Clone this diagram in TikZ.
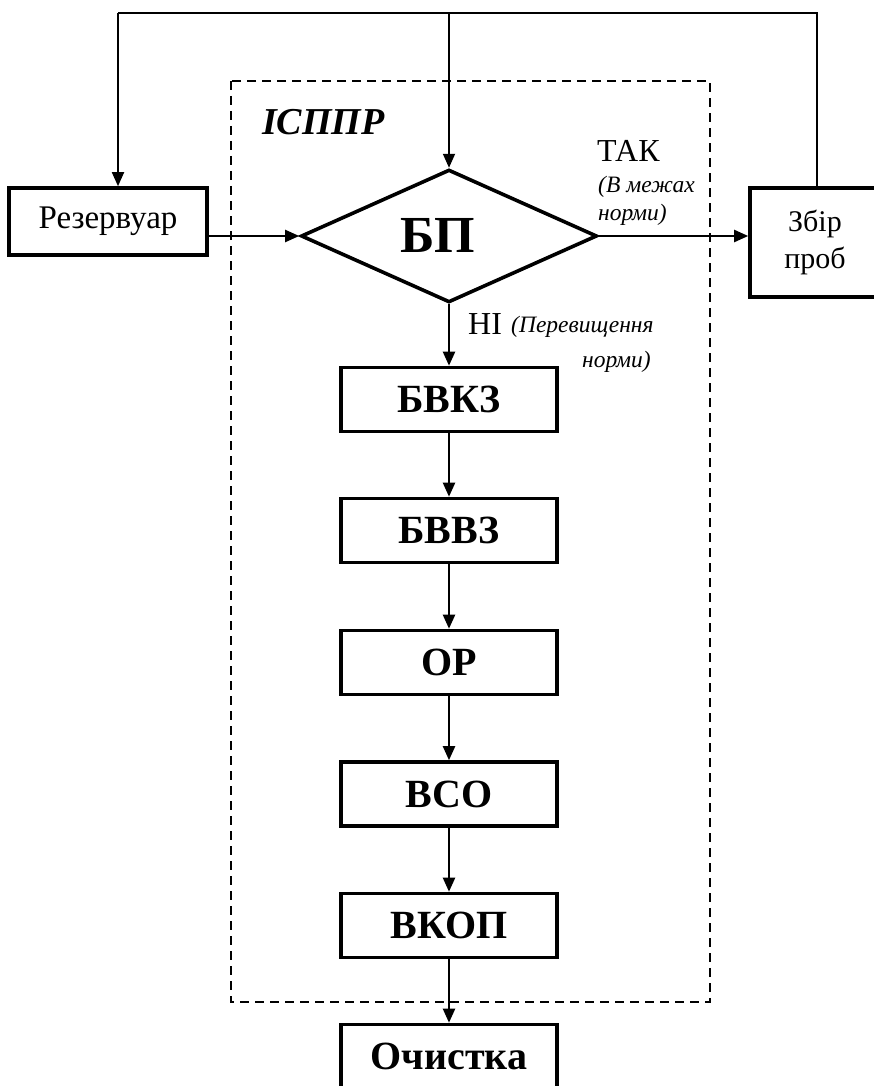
\documentclass[tikz,border=0pt]{standalone}
\usepackage{fontspec}
\setmainfont{Liberation Serif}
\usetikzlibrary{shapes.geometric,arrows.meta,calc}
\tikzset{
  tip/.style={-{Triangle[length=14pt,width=12pt]}},
  conn/.style={line width=2.2pt,tip},
  fb/.style={line width=1.8pt},
  blk/.style={draw,line width=3.6pt,minimum width=216pt,minimum height=64pt,inner sep=0pt,
    font=\fontsize{40}{44}\selectfont\bfseries},
  plainbox/.style={draw,line width=3.6pt,inner sep=0pt,font=\fontsize{33}{38}\selectfont},
  dec/.style={draw,diamond,line width=3.6pt,minimum width=296pt,minimum height=132pt,inner sep=0pt,
    font=\fontsize{52}{56}\selectfont\bfseries},
  lbl/.style={inner sep=0pt,anchor=base west,font=\fontsize{32}{36}\selectfont},
  ilbl/.style={inner sep=0pt,anchor=base west,font=\fontsize{23.5}{26}\selectfont\itshape},
}
\begin{document}
\begin{tikzpicture}[x=1pt,y=-1pt]
\useasboundingbox (0,0) rectangle (874,1086);
\clip (0,0) rectangle (874,1086);
% dashed frame
\draw[dashed,line width=2.4pt,dash pattern=on 9pt off 6pt] (231,81) rectangle (710,1002);
\node[inner sep=0pt,anchor=base west,font=\fontsize{38}{42}\selectfont\bfseries\itshape] (isppr) at (262,135) {ІСППР};
% nodes
\node[plainbox,minimum width=198pt,minimum height=67pt] (rez) at (108,221.5) {Резервуар};
\node[plainbox,minimum width=130pt,minimum height=109pt,align=center,font=\fontsize{30}{37}\selectfont] (zb) at (815,242.5) {Збір\\проб};
\node[dec] (bp) at (449,236) {\raisebox{2pt}{БП}\hspace*{22pt}};
\node[blk] (b1) at (449,399.5) {БВКЗ};
\node[blk] (b2) at (449,530.5) {БВВЗ};
\node[blk] (b3) at (449,662.5) {ОР};
\node[blk] (b4) at (449,794) {ВСО};
\node[blk] (b5) at (449,925.5) {ВКОП};
\node[blk] (b6) at (449,1056.5) {Очистка};
% labels
\node[lbl] (tak) at (597,162) {ТАК};
\node[ilbl] (tak1) at (598,193) {(В межах};
\node[ilbl] (tak2) at (598,220) {норми)};
\node[lbl] (ni) at (468,334) {НІ};
\node[ilbl] (ni1) at (511,332) {(Перевищення};
\node[ilbl] (ni2) at (582,367) {норми)};
% feedback lines
\coordinate (rtop) at (817,13);
\coordinate (ltop) at (118,13);
\coordinate (ctop) at (449,13);
\draw[fb] (rtop |- zb.north) -- (rtop) -- (ltop);
\draw[fb,tip] (ltop) -- (ltop |- rez.north);
\draw[fb,tip] (ctop) -- (bp.north);
% main flow
\draw[conn] (rez.east |- bp.west) -- (bp.west);
\draw[conn] (bp.east) -- (zb.west |- bp.east);
\draw[conn] (bp.south) -- (b1.north);
\draw[conn] (b1) -- (b2);
\draw[conn] (b2) -- (b3);
\draw[conn] (b3) -- (b4);
\draw[conn] (b4) -- (b5);
\draw[conn] (b5) -- (b6);
\end{tikzpicture}
\end{document}
